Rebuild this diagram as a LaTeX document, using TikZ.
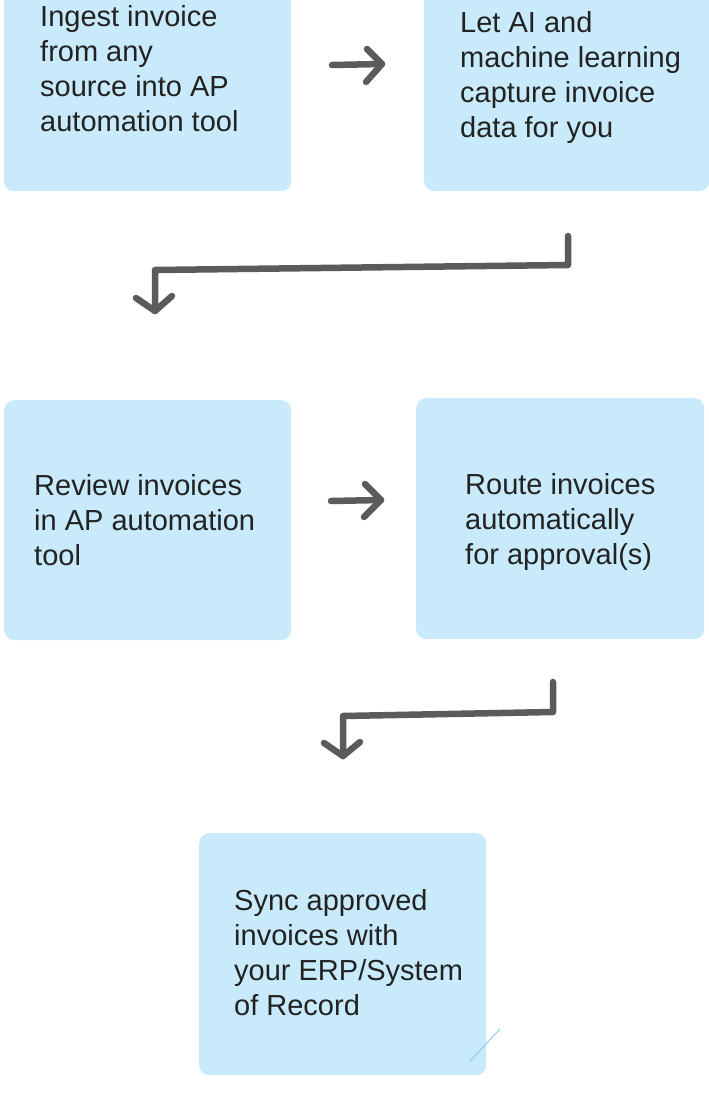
\documentclass[tikz,border=0pt]{standalone}
\usepackage{fontspec}
\setmainfont{Liberation Sans}
\definecolor{boxblue}{RGB}{201,234,250}
\definecolor{arrowgrey}{RGB}{91,91,91}
\definecolor{txt}{RGB}{34,34,34}
\definecolor{tick}{RGB}{140,205,240}
\begin{document}
\begin{tikzpicture}[x=1pt,y=-1pt,
  card/.style={fill=boxblue,draw=none,rounded corners=10pt},
  label/.style={anchor=north west,inner sep=0pt,align=left,text=txt,
    font=\fontsize{29}{35.2}\selectfont},
  flow/.style={draw=arrowgrey,line width=6.5pt,line cap=round,line join=round}]
\useasboundingbox (0,0) rectangle (709,1095);
% boxes
\node[card,minimum width=287pt,minimum height=231pt,inner sep=0pt,anchor=north west] (b1) at (4,-40) {};
\node[card,minimum width=285pt,minimum height=231pt,inner sep=0pt,anchor=north west] (b2) at (424,-40) {};
\node[card,minimum width=287pt,minimum height=240pt,inner sep=0pt,anchor=north west] (b3) at (4,400) {};
\node[card,minimum width=288pt,minimum height=241pt,inner sep=0pt,anchor=north west] (b4) at (416,398) {};
\node[card,minimum width=287pt,minimum height=242pt,inner sep=0pt,anchor=north west] (b5) at (199,833) {};
% texts
\node[label] (t1) at (40,5) {Ingest invoice\\from any\\source into AP\\automation tool};
\node[label] (t2) at (460,11) {Let AI and\\machine learning\\capture invoice\\data for you};
\node[label] (t3) at (34,474) {Review invoices\\in AP automation\\tool};
\node[label] (t4) at (465,473) {Route invoices\\automatically\\for approval(s)};
\node[label] (t5) at (234,889) {Sync approved\\invoices with\\your ERP/System\\of Record};
% straight arrows
\coordinate (a1s) at (332,65); \coordinate (a1e) at (382,64);
\coordinate (a1u) at (367,49); \coordinate (a1d) at (366,82);
\draw[flow] (a1s) -- (a1e);
\draw[flow] (a1u) -- (a1e) -- (a1d);
\coordinate (a2s) at (331,501); \coordinate (a2e) at (381,500);
\coordinate (a2u) at (365,484); \coordinate (a2d) at (364,517);
\draw[flow] (a2s) -- (a2e);
\draw[flow] (a2u) -- (a2e) -- (a2d);
% bent arrows
\coordinate (c1a) at (568,236); \coordinate (c1b) at (568,265);
\coordinate (c1c) at (155,270); \coordinate (c1d) at (155,311);
\coordinate (c1l) at (136,298); \coordinate (c1r) at (172,296);
\draw[flow] (c1a) -- (c1b) -- (c1c) -- (c1d);
\draw[flow] (c1l) -- (c1d) -- (c1r);
\coordinate (c2a) at (553,682); \coordinate (c2b) at (553,712);
\coordinate (c2c) at (343,716); \coordinate (c2d) at (343,756);
\coordinate (c2l) at (324,743); \coordinate (c2r) at (360,742);
\draw[flow] (c2a) -- (c2b) -- (c2c) -- (c2d);
\draw[flow] (c2l) -- (c2d) -- (c2r);
% small tick in last box
\coordinate (k1) at (470,1061); \coordinate (k2) at (500,1029);
\draw[tick,line width=1pt] (k1) -- (k2);
\end{tikzpicture}
\end{document}
